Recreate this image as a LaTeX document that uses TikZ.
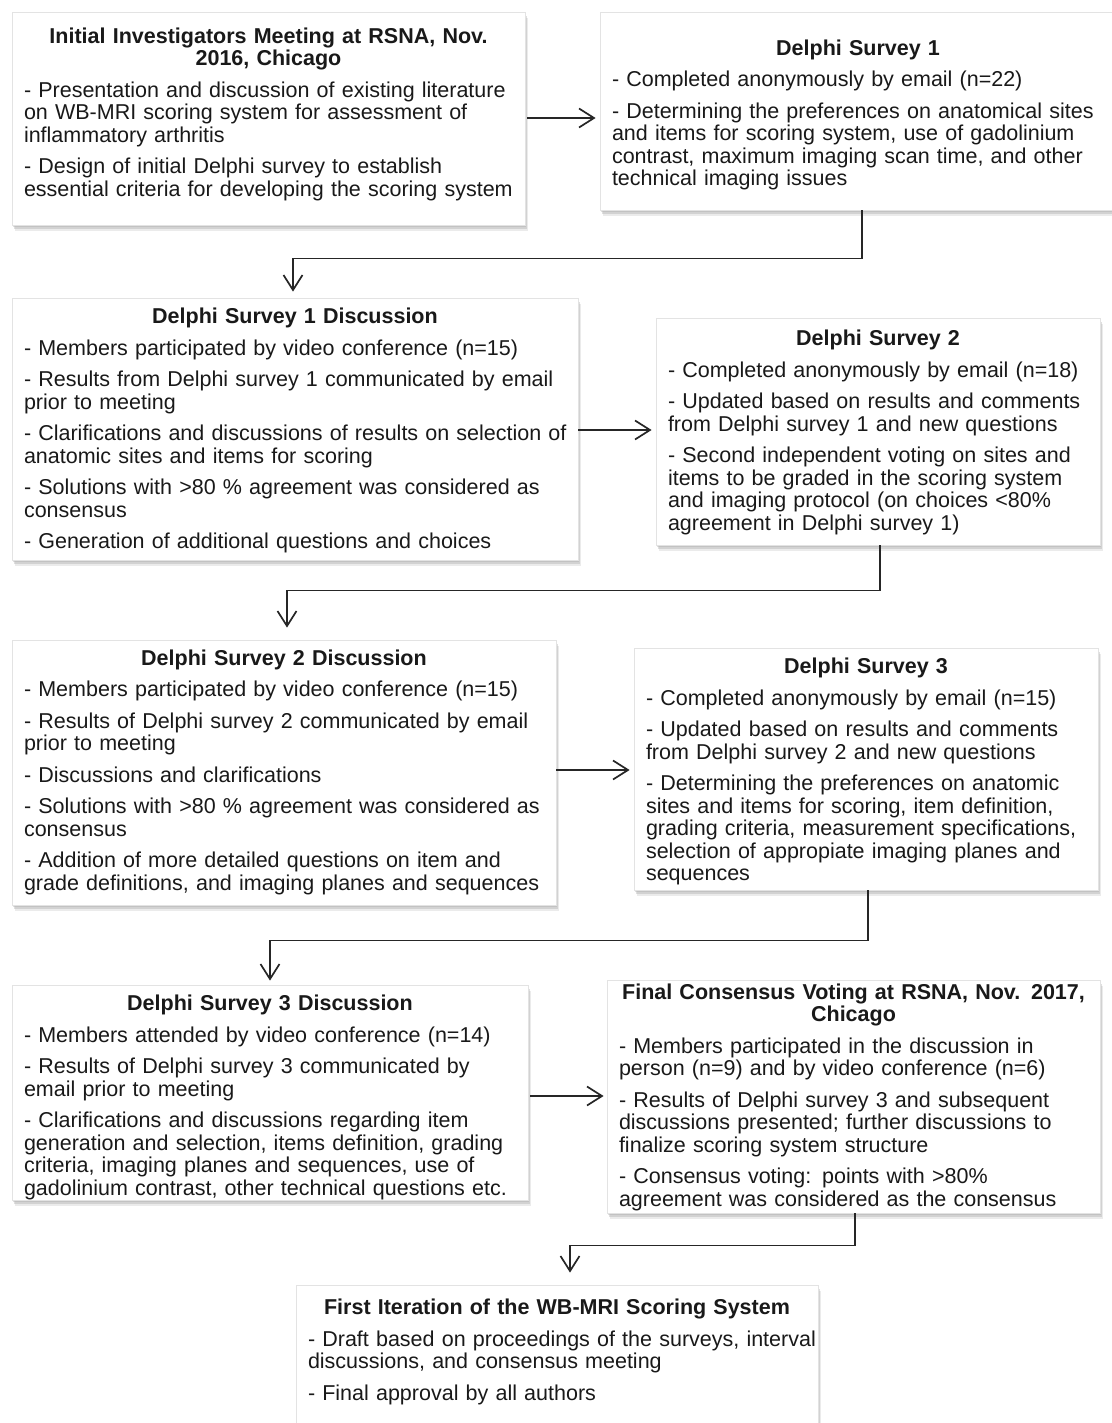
\documentclass[tikz,border=0pt]{standalone}
\usepackage{fontspec}
\setmainfont{Liberation Sans}
\usetikzlibrary{shadows,arrows.meta}
\newcommand\bxtitle[1]{{\centering\bfseries #1\par}\vspace{9pt}}
\newcommand\bxbody[1]{\noindent\begin{tabular}[t]{@{}l@{}}#1\end{tabular}\par}
% shift the text block down by half of #1 inside its box
\newcommand\downby[1]{\par\vspace{-#1}}
\tikzset{
  box/.style={draw=gray!22, line width=0.8pt, fill=white,
    drop shadow={shadow xshift=3pt, shadow yshift=-6pt, fill=gray!60, opacity=0.25},
    drop shadow={shadow xshift=2pt, shadow yshift=-4pt, fill=gray!70, opacity=0.35},
    drop shadow={shadow xshift=1pt, shadow yshift=-2pt, fill=gray!70, opacity=0.35},
    inner xsep=12pt, inner ysep=0pt, align=left,
    font=\fontsize{21.5}{22.5}\selectfont, text=black!90},
  conn/.style={line width=1.7pt, black!85,
    -{Straight Barb[length=15pt,width=19pt,line width=1.7pt]}},
}
\begin{document}
\begin{tikzpicture}[x=1pt,y=-1pt]
\useasboundingbox[fill=white] (0,0) rectangle (1111,1423);

\node[box, minimum width=513pt, minimum height=213pt, text width=489pt] (b1) at (268.5,118.5) {%
\bxtitle{Initial Investigators Meeting at RSNA, Nov.\\2016, Chicago}%
\bxbody{- Presentation and discussion of existing literature\\
on WB-MRI scoring system for assessment of\\
inflammatory arthritis\\[9pt]
- Design of initial  Delphi survey to establish\\
essential criteria  for developing the scoring system}\vspace{6pt}};

\node[box, minimum width=516pt, minimum height=198pt, text width=492pt] (b2) at (858,111) {%
\bxtitle{Delphi Survey 1}%
\bxbody{- Completed anonymously by email (n=22)\\[9pt]
- Determining the preferences on anatomical sites\\
and items for scoring system, use of gadolinium\\
contrast, maximum imaging scan time,  and other\\
technical imaging issues}\downby{10pt}};

\node[box, minimum width=566pt, minimum height=262pt, text width=542pt] (b3) at (295,429) {%
\bxtitle{Delphi Survey 1 Discussion}%
\bxbody{- Members participated by video conference (n=15)\\[9pt]
- Results from Delphi survey 1 communicated by email\\
prior to meeting\\[9pt]
- Clarifications and discussions of results on selection of\\
anatomic sites and items for scoring\\[9pt]
- Solutions with >80 \% agreement was considered as\\
consensus\\[9pt]
- Generation of additional questions and choices}\downby{6pt}};

\node[box, minimum width=444pt, minimum height=227pt, text width=420pt] (b4) at (878,431.5) {%
\bxtitle{Delphi Survey 2}%
\bxbody{- Completed anonymously by email (n=18)\\[9pt]
- Updated based on results and comments\\
from Delphi survey 1 and new questions\\[9pt]
- Second independent voting on sites and\\
items to be graded in the scoring system\\
and imaging protocol (on choices <80\%\\
agreement in Delphi survey 1)}\downby{4pt}};

\node[box, minimum width=544pt, minimum height=265pt, text width=520pt] (b5) at (284,772.5) {%
\bxtitle{Delphi Survey 2 Discussion}%
\bxbody{- Members participated by video conference (n=15)\\[9pt]
- Results of Delphi survey 2 communicated by email\\
prior to meeting\\[9pt]
- Discussions and clarifications\\[9pt]
- Solutions with >80 \% agreement was considered as\\
consensus\\[9pt]
- Addition of more detailed questions on item and\\
grade definitions, and imaging planes and sequences}\downby{2pt}};

\node[box, minimum width=464pt, minimum height=242pt, text width=440pt] (b6) at (866,769) {%
\bxtitle{Delphi Survey 3}%
\bxbody{- Completed anonymously by email (n=15)\\[9pt]
- Updated based on results and comments\\
from Delphi survey 2 and new questions\\[9pt]
- Determining the preferences on anatomic\\
sites and items for scoring, item definition,\\
grading criteria, measurement specifications,\\
selection of appropiate imaging planes and\\
sequences}\downby{8pt}};

\node[box, minimum width=516pt, minimum height=215pt, text width=492pt] (b7) at (270,1092.5) {%
\bxtitle{Delphi Survey 3 Discussion}%
\bxbody{- Members attended by video conference (n=14)\\[9pt]
- Results of Delphi survey 3 communicated by\\
email prior to meeting\\[9pt]
- Clarifications and discussions regarding item\\
generation and selection, items definition, grading\\
criteria, imaging planes and sequences, use of\\
gadolinium contrast, other technical questions etc.}\downby{12pt}};

\node[box, minimum width=493pt, minimum height=233pt, text width=469pt] (b8) at (853.5,1096.5) {%
\bxtitle{Final Consensus Voting at RSNA, Nov. 2017,\\Chicago}%
\bxbody{- Members participated in the discussion in\\
person (n=9) and by video conference (n=6)\\[9pt]
- Results of Delphi survey 3 and subsequent\\
discussions presented; further discussions to\\
finalize scoring system structure\\[9pt]
- Consensus voting: points with >80\%\\
agreement was considered as the consensus}\downby{4pt}};

\node[box, minimum width=522pt, minimum height=160pt, text width=498pt] (b9) at (557,1365) {%
\bxtitle{First Iteration of the WB-MRI Scoring System}%
\bxbody{- Draft based on proceedings of the surveys, interval\\
discussions, and consensus meeting\\[9pt]
- Final approval by all authors}\par\vspace{24pt}};

% connectors
\draw[conn, shorten <=2pt, shorten >=4pt] (b1.east |- 0,118) -- (b2.west |- 0,118);
\draw[conn, shorten <=0pt, shorten >=4pt] (b3.east |- 0,430) -- (b4.west |- 0,430);
\draw[conn, shorten <=0pt, shorten >=4pt] (b5.east |- 0,770) -- (b6.west |- 0,770);
\draw[conn, shorten <=2pt, shorten >=3pt] (b7.east |- 0,1096) -- (b8.west |- 0,1096);

\draw[conn, shorten >=6pt] ([xshift=4pt]b2.south) -- ++(0,48) -| ([xshift=-2pt]b3.north);
\draw[conn, shorten >=12pt] ([xshift=2pt]b4.south) -- ++(0,45) -| ([xshift=3pt]b5.north);
\draw[conn, shorten >=4pt] ([xshift=2pt]b6.south) -- ++(0,50) -| (b7.north);
\draw[conn, shorten >=12pt] ([xshift=1.5pt]b8.south) -- ++(0,32) -| ([xshift=13pt]b9.north);
\end{tikzpicture}
\end{document}
